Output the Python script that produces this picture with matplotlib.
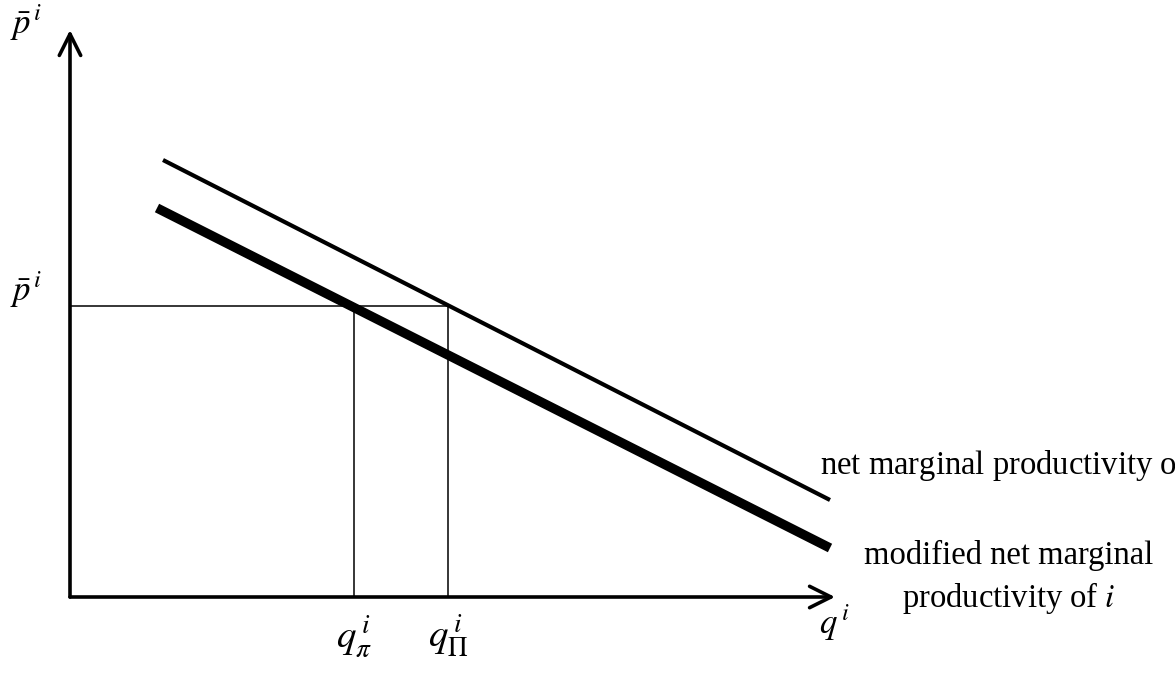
import matplotlib.pyplot as plt

plt.rcParams["font.family"] = "Liberation Serif"
plt.rcParams["mathtext.fontset"] = "stix"

# two demand-like schedules (x = quantity, y = price), end points only
mp_x = [93, 760]
mp_y = [437, 97]
mod_x = [87, 760]
mod_y = [389, 49]

p_bar = 291
q_pi = 284
q_Pi = 378

x_end = 765
y_end = 567

fig = plt.figure(figsize=(11.75, 6.75), dpi=100)
ax = fig.add_axes([0, 0, 1, 1])
ax.set_xlim(-70, 1105)
ax.set_ylim(-78, 597)
ax.axis("off")

# axes with arrows
arrow = dict(arrowstyle="->,head_length=0.7,head_width=0.35", lw=2.6,
             color="black", mutation_scale=22, shrinkA=0, shrinkB=0)
ax.annotate("", xy=(x_end, 0), xytext=(0, 0), arrowprops=arrow)
ax.annotate("", xy=(0, y_end), xytext=(0, 0), arrowprops=arrow)

# curves
ax.plot(mp_x, mp_y, color="black", lw=3.0, solid_capstyle="butt")
ax.plot(mod_x, mod_y, color="black", lw=6.8, solid_capstyle="butt")

# guide lines
ax.plot([0, q_Pi], [p_bar, p_bar], color="black", lw=1.1)
ax.plot([q_pi, q_pi], [0, p_bar], color="black", lw=1.1)
ax.plot([q_Pi, q_Pi], [0, p_bar], color="black", lw=1.1)

# labels
ax.text(-44, 574, r"$\bar{p}^{\,i}$", fontsize=25, ha="center", va="center")
ax.text(-44, 307, r"$\bar{p}^{\,i}$", fontsize=25, ha="center", va="center")
ax.text(q_pi, -40, r"$q^{\,i}_{\pi}$", fontsize=28, ha="center", va="center")
ax.text(q_Pi, -40, r"$q^{\,i}_{\Pi}$", fontsize=28, ha="center", va="center")
ax.text(x_end - 1, -26, r"$q^{\,i}$", fontsize=25, ha="center", va="center")

ax.text(750, 132, "net marginal productivity of $i$", fontsize=23.5,
        ha="left", va="center")
ax.text(939, 42, "modified net marginal", fontsize=23.5, ha="center", va="center")
ax.text(939, -1, "productivity of $i$", fontsize=23.5, ha="center", va="center")

fig.savefig("out.png", dpi=100)
